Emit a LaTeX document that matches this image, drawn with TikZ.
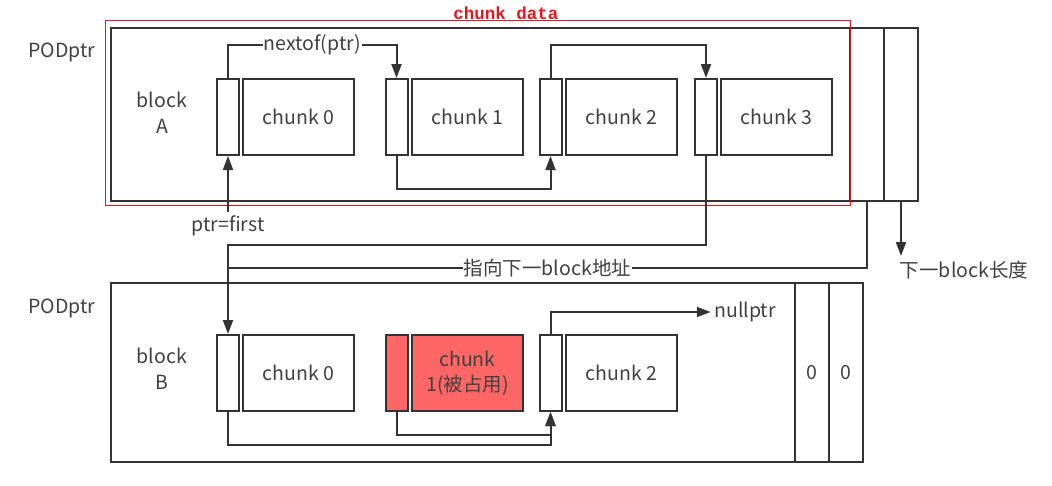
\documentclass[tikz,border=0pt]{standalone}
\usepackage{fontspec}
\setmainfont{Noto Sans CJK SC}
\newfontfamily\monofont{Liberation Mono}
\usetikzlibrary{arrows.meta}
\definecolor{ink}{HTML}{333333}
\definecolor{txt}{HTML}{404040}
\definecolor{redbox}{HTML}{E8141C}
\definecolor{busy}{HTML}{FF6666}
\begin{document}
\begin{tikzpicture}[x=1pt,y=-1pt,
  every node/.style={font=\fontsize{19.5}{26}\selectfont, text=txt},
  box/.style={draw=ink, line width=2pt, inner sep=0pt},
  cell/.style={box, minimum width=22, minimum height=76},
  chunkbox/.style={box, minimum width=111, minimum height=76},
  conn/.style={draw=ink, line width=2pt, -{Triangle[length=14pt,width=10pt]}},
  wire/.style={draw=ink, line width=2pt},
  lbl/.style={fill=white, inner sep=1pt}
]
\useasboundingbox (0,0) rectangle (1052,485);
% ---------- block A ----------
\node[box, minimum width=739, minimum height=173] (boxA) at (480.5,114.5) {};
\node[box, minimum width=34, minimum height=173] (lenA1) at (867,114.5) {};
\node[box, minimum width=34, minimum height=173] (lenA2) at (901,114.5) {};
\node (podA) at (62,52) {PODptr};
\node[align=center] (blkA) at (162,113) {block\\A};
\node[cell] (a0) at (228,117) {};
\node[chunkbox] (ca0) at (298.5,117) {chunk 0};
\node[cell] (a1) at (396.5,117) {};
\node[chunkbox] (ca1) at (467.5,117) {chunk 1};
\node[cell] (a2) at (550.5,117) {};
\node[chunkbox] (ca2) at (621.5,117) {chunk 2};
\node[cell] (a3) at (706,117) {};
\node[chunkbox] (ca3) at (776.5,117) {chunk 3};
% red frame
\draw[redbox, line width=1pt] (105,20.5) rectangle (850,205);
\node[text=redbox, font=\monofont\bfseries\fontsize{17.5}{20}\selectfont] (cd) at (506,13) {chunk data};
% ---------- block B ----------
\node[box, minimum width=684, minimum height=179] (boxB) at (453,372.5) {};
\node[box, minimum width=34, minimum height=179] (lenB1) at (812,372.5) {0};
\node[box, minimum width=34, minimum height=179] (lenB2) at (846,372.5) {0};
\node (podB) at (62,308) {PODptr};
\node[align=center] (blkB) at (162,369) {block\\B};
\node[cell] (b0) at (228,373) {};
\node[chunkbox] (cb0) at (298.5,373) {chunk 0};
\node[cell, fill=busy] (b1) at (397,373) {};
\node[chunkbox, fill=busy, align=center, font=\fontsize{19.5}{25}\selectfont] (cb1) at (467.5,373) {chunk\\1(被占用)};
\node[cell] (b2) at (550.5,373) {};
\node[chunkbox] (cb2) at (621.5,373) {chunk 2};
% ---------- connectors A ----------
\draw[conn] (a0.north) -- ++(0,-33) -| node[pos=0.25, lbl] {nextof(ptr)} (a1.north);
\draw[conn] (a1.south) -- ++(0,33) -| (a2.south);
\draw[conn] (a2.north) -- ++(0,-33) -| (a3.north);
\node (ptrf) at (228,226) {ptr=first};
\draw[conn] (ptrf.north) -- (a0.south);
\draw[conn] (a3.south) -- ++(0,89) -| (b0.north);
\coordinate (join) at (228,268);
\draw[wire] (lenA1.south) |- node[pos=0.75, lbl] {指向下一block地址} (join);
\coordinate (lenend) at (901,256);
\draw[conn] (lenA2.south) -- (lenend);
\node (nbl) at (964,270) {下一block长度};
% ---------- connectors B ----------
\draw[conn] (b0.south) -- ++(0,33) -| (b2.south);
\draw[conn] (b1.south) -- ++(0,23) -| (b2.south);
\node (np) at (745,312) {nullptr};
\draw[conn] (b2.north) |- (np.west);
\end{tikzpicture}
\end{document}
